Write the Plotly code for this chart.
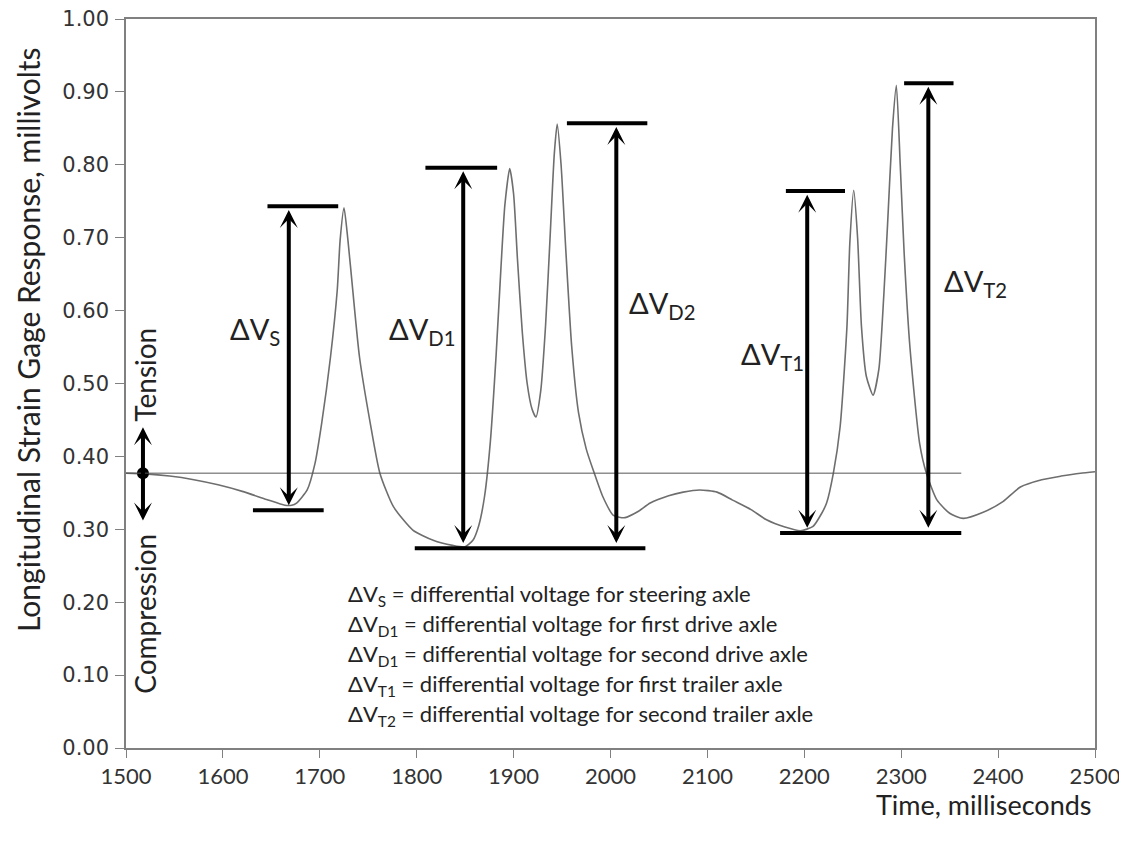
import plotly.graph_objects as go

# Strain gage trace (time in ms, response in mV)
time_ms = [1500, 1520, 1545, 1570, 1595, 1620, 1645, 1664, 1671, 1676, 1687, 1695, 1702, 1711, 1718, 1721, 1725,
           1729, 1734, 1741, 1752, 1762, 1776, 1796, 1817, 1837, 1850, 1858, 1864, 1870, 1876, 1882, 1887, 1891,
           1896, 1900, 1904, 1909, 1914, 1919, 1923, 1928, 1933, 1938, 1942, 1945, 1949, 1954, 1960, 1967, 1975,
           1983, 1992, 2003, 2015, 2028, 2041, 2060, 2075, 2092, 2110, 2126, 2145, 2161, 2180, 2196, 2209, 2218,
           2223, 2230, 2237, 2244, 2247, 2251, 2255, 2259, 2264, 2271, 2277, 2282, 2286, 2291, 2295, 2299, 2303,
           2309, 2319, 2326, 2337, 2350, 2364, 2384, 2405, 2423, 2445, 2465, 2485, 2500]
response_mv = [0.377, 0.376, 0.373, 0.368, 0.361, 0.352, 0.341, 0.333, 0.333, 0.336, 0.354, 0.39, 0.446, 0.536,
               0.628, 0.697, 0.741, 0.697, 0.628, 0.536, 0.446, 0.377, 0.331, 0.299, 0.285, 0.278, 0.276, 0.285,
               0.305, 0.345, 0.42, 0.54, 0.66, 0.745, 0.795, 0.76, 0.67, 0.57, 0.5, 0.465, 0.454, 0.49, 0.58, 0.71,
               0.815, 0.856, 0.8, 0.68, 0.55, 0.46, 0.41, 0.378, 0.345, 0.319, 0.316, 0.324, 0.336, 0.346, 0.351,
               0.354, 0.351, 0.34, 0.327, 0.313, 0.303, 0.298, 0.304, 0.322, 0.336, 0.377, 0.441, 0.578, 0.693,
               0.765, 0.7, 0.578, 0.51, 0.484, 0.52, 0.62, 0.72, 0.85, 0.909, 0.8, 0.68, 0.55, 0.418, 0.377, 0.34,
               0.322, 0.315, 0.323, 0.338, 0.358, 0.368, 0.373, 0.377, 0.379]

baseline_mv = 0.377
baseline_end_ms = 2362
marker_ms = 1517.5

# Differential voltage indicators: label, arrow x, low value, high value
dv_labels = ["S", "D1", "D2", "T1", "T2"]
dv_arrow_ms = [1668, 1848, 2006, 2203, 2328]
dv_low = [0.326, 0.274, 0.274, 0.295, 0.295]
dv_high = [0.743, 0.796, 0.857, 0.764, 0.912]
# horizontal bar extents (ms)
top_bar_ms = [(1646, 1719), (1809, 1883), (1955, 2038), (2181, 2242), (2303, 2354)]
bottom_bar_ms = [(1631, 1704), (1798, 2036), (2175, 2362)]
bottom_bar_mv = [0.326, 0.274, 0.295]
dv_label_pos = [(1633, 0.573), (1805, 0.573), (2053, 0.608), (2167, 0.539), (2377, 0.639)]

legend_lines = [
    ("S", "steering axle"),
    ("D1", "first drive axle"),
    ("D1", "second drive axle"),
    ("T1", "first trailer axle"),
    ("T2", "second trailer axle"),
]
legend_y = [0.210, 0.169, 0.128, 0.086, 0.045]

x_ticks = list(range(1500, 2501, 100))
y_ticks = [i / 10 for i in range(11)]

FONT = "Lato"
BLACK = "#000000"
TXT = "#222222"

# plot area in page pixels (page is shown with an 8px body offset)
PX_L, PX_R, PX_T, PX_B = 126, 1095, 19, 748


def paper_x(px):
    return (px - PX_L) / (PX_R - PX_L)


def paper_y(py):
    return (PX_B - py) / (PX_B - PX_T)


fig = go.Figure()
fig.add_trace(go.Scatter(x=time_ms, y=response_mv, mode="lines",
                         line=dict(color="#6e6e6e", width=1.6, shape="spline", smoothing=0.6),
                         hoverinfo="skip", showlegend=False))
fig.add_trace(go.Scatter(x=[marker_ms], y=[baseline_mv], mode="markers",
                         marker=dict(color=BLACK, size=12), showlegend=False, hoverinfo="skip"))

shapes = [dict(type="line", xref="x", yref="y", x0=1500, x1=baseline_end_ms, y0=baseline_mv, y1=baseline_mv,
               line=dict(color="#555555", width=1))]
for (a, b), v in zip(top_bar_ms, dv_high):
    shapes.append(dict(type="line", xref="x", yref="y", x0=a, x1=b, y0=v, y1=v, line=dict(color=BLACK, width=4)))
for (a, b), v in zip(bottom_bar_ms, bottom_bar_mv):
    shapes.append(dict(type="line", xref="x", yref="y", x0=a, x1=b, y0=v, y1=v, line=dict(color=BLACK, width=4)))

annotations = []
arrow_style = dict(text="", showarrow=True, arrowhead=3, arrowside="end+start", arrowwidth=4,
                   arrowsize=0.75, arrowcolor=BLACK, standoff=0, startstandoff=0,
                   xref="x", yref="y", axref="x", ayref="y")
for xm, lo, hi in zip(dv_arrow_ms, dv_low, dv_high):
    annotations.append(dict(x=xm, y=hi - 0.005, ax=xm, ay=lo + 0.005, **arrow_style))
# tension / compression arrow
annotations.append(dict(x=marker_ms, y=0.44, ax=marker_ms, ay=0.31, **arrow_style))
for lab, (lx, ly) in zip(dv_labels, dv_label_pos):
    annotations.append(dict(x=lx, y=ly, xref="x", yref="y", showarrow=False,
                            text="ΔV<sub>%s</sub>" % lab, font=dict(family=FONT, size=29, color=TXT)))
for (lab, desc), ly in zip(legend_lines, legend_y):
    annotations.append(dict(x=1727, y=ly, xref="x", yref="y", showarrow=False, xanchor="left", yanchor="middle",
                            text="ΔV<sub>%s</sub> = differential voltage for %s" % (lab, desc),
                            font=dict(family=FONT, size=22, color=TXT)))
annotations.append(dict(x=marker_ms + 2, y=0.512, xref="x", yref="y", showarrow=False, textangle=-90,
                        xanchor="center", yanchor="middle",
                        text="Tension", font=dict(family=FONT, size=28, color=TXT)))
annotations.append(dict(x=marker_ms + 2, y=0.184, xref="x", yref="y", showarrow=False, textangle=-90,
                        xanchor="center", yanchor="middle",
                        text="Compression", font=dict(family=FONT, size=28, color=TXT)))
annotations.append(dict(x=paper_x(28), y=paper_y(340), xref="paper", yref="paper", showarrow=False,
                        textangle=-90, xanchor="center", yanchor="middle",
                        text="Longitudinal Strain Gage Response, millivolts",
                        font=dict(family=FONT, size=30, color=TXT)))
annotations.append(dict(x=paper_x(1094), y=paper_y(804), xref="paper", yref="paper", showarrow=False,
                        xanchor="right", yanchor="middle", text="Time, milliseconds",
                        font=dict(family=FONT, size=27, color=TXT)))

OFF = 8
fig.update_layout(
    width=1127, height=843,
    margin=dict(l=PX_L - OFF, r=1127 - (PX_R - OFF), t=PX_T - OFF, b=843 - (PX_B - OFF), autoexpand=False),
    paper_bgcolor="white", plot_bgcolor="white",
    shapes=shapes, annotations=annotations, showlegend=False,
    xaxis=dict(range=[1500, 2500], tickvals=x_ticks, ticks="outside", ticklen=8, tickcolor="#808080",
               showline=True, linecolor="#808080", linewidth=1.5, mirror=True, showgrid=False, zeroline=False,
               tickfont=dict(family=FONT, size=22, color="#333"), ticklabelstandoff=0, automargin=False,
               ticklabeloverflow="allow"),
    yaxis=dict(range=[0, 1], tickvals=y_ticks, tickformat=".2f", ticks="outside", ticklen=9, tickcolor="#808080",
               showline=True, linecolor="#808080", linewidth=1.5, mirror=True, showgrid=False, zeroline=False,
               tickfont=dict(family="DejaVu Sans", size=21, color="#333"), ticklabelstandoff=2,
               automargin=False, ticklabeloverflow="allow"),
)

fig.write_html("out.html")
